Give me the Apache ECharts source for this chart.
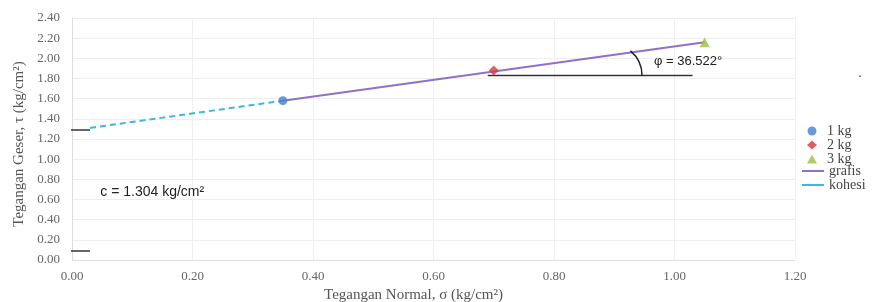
<!DOCTYPE html>
<html><head><meta charset="utf-8">
<script src="https://cdn.jsdelivr.net/npm/echarts@6/dist/echarts.min.js"></script>
<style>html,body{margin:0;padding:0;background:#fff}#c{width:873px;height:302px}</style>
</head><body><div id="c"></div>
<script>
// ---- data ----
const xTicks = [0, 0.2, 0.4, 0.6, 0.8, 1.0, 1.2];
const yTicks = [0, 0.2, 0.4, 0.6, 0.8, 1.0, 1.2, 1.4, 1.6, 1.8, 2.0, 2.2, 2.4];
const kg1 = [[0.35, 1.58]];
const kg2 = [[0.70, 1.88]];
const kg3 = [[1.05, 2.16]];
const grafis = [[0.35, 1.58], [1.05, 2.16]];
const kohesi = [[0.03, 1.31], [0.35, 1.58]];
const cMarkTop = [[-0.025, 1.29], [0.03, 1.29]];
const cMarkBottom = [[-0.025, 0.09], [0.03, 0.09]];
const phiBase = [[0.69, 1.83], [1.03, 1.83]];
const cohesionText = 'c = 1.304 kg/cm²';
const phiText = 'φ = 36.522°';

const serif = '"Liberation Serif","DejaVu Serif",serif';
const sans = '"Liberation Sans","DejaVu Sans",sans-serif';
const chart = echarts.init(document.getElementById('c'));
const blackLine = (d) => ({type:'line', data:d, symbol:'none', clip:false, silent:true,
  lineStyle:{color:'#333', width:1.5}, z:3});
const legText = {fontFamily:serif, fontSize:14, color:'#444', lineHeight:13.5};
chart.setOption({
  animation:false,
  grid:{left:72, right:78, top:18, bottom:42, outerBoundsMode:'none', containLabel:false},
  xAxis:{type:'value', min:0, max:1.2, interval:0.2,
    name:'Tegangan Normal, σ (kg/cm²)', nameLocation:'middle', nameGap:24,
    nameTextStyle:{fontFamily:serif, fontSize:15, color:'#555', padding:[0,40,0,0]},
    axisLine:{show:true, lineStyle:{color:'#ddd'}}, axisTick:{show:false},
    axisLabel:{fontFamily:serif, fontSize:13, color:'#666', margin:10, formatter:v=>v.toFixed(2)},
    splitLine:{show:true, lineStyle:{color:'#f0f0f0'}}},
  yAxis:{type:'value', min:0, max:2.4, interval:0.2,
    name:'Tegangan Geser, τ (kg/cm²)', nameLocation:'middle', nameGap:42,
    nameTextStyle:{fontFamily:serif, fontSize:15, color:'#555', padding:[0,10,0,0]},
    axisLine:{show:true, lineStyle:{color:'#ddd'}}, axisTick:{show:false},
    axisLabel:{fontFamily:serif, fontSize:13, color:'#666', margin:12, formatter:v=>v.toFixed(2)},
    splitLine:{show:true, lineStyle:{color:'#eee'}}},
  legend:[
    {orient:'vertical', left:807, top:124, padding:0, itemWidth:10, itemHeight:9, itemGap:0,
      textStyle:Object.assign({padding:[0,0,0,5]}, legText), data:['1 kg','2 kg','3 kg']},
    {orient:'vertical', left:802, top:164, padding:0, itemWidth:22, itemHeight:2, itemGap:0, icon:'rect',
      textStyle:legText, data:['grafis','kohesi']}
  ],
  series:[
    {name:'kohesi', type:'line', data:kohesi, symbol:'none',
      lineStyle:{color:'#3fb6e0', width:2, type:[6,4]}, itemStyle:{color:'#3fb6e0'}, z:2},
    {name:'grafis', type:'line', data:grafis, symbol:'none',
      lineStyle:{color:'#9070c8', width:2}, itemStyle:{color:'#9070c8'}, z:2},
    blackLine(cMarkTop), blackLine(cMarkBottom), blackLine(phiBase),
    {name:'1 kg', type:'scatter', data:kg1, symbol:'circle', symbolSize:9, itemStyle:{color:'#4a80d0'}, z:5},
    {name:'2 kg', type:'scatter', data:kg2, symbol:'diamond', symbolSize:10, itemStyle:{color:'#d8383a'}, z:5},
    {name:'3 kg', type:'scatter', data:kg3, symbol:'triangle', symbolSize:10, itemStyle:{color:'#a0c040'}, z:5}
  ]
});
const p = (x,y) => chart.convertToPixel({gridIndex:0}, [x,y]);
const arcC = p(0.893, 1.83);
const cPos = p(0.047, 0.67);
const phiPos = p(0.966, 1.97);
chart.setOption({graphic:[
  {type:'arc', shape:{cx:arcC[0], cy:arcC[1], r:32, startAngle:-Math.PI*0.28, endAngle:0, clockwise:true},
    style:{stroke:'#222', fill:null, lineWidth:1.5}, z:10},
  {type:'text', x:phiPos[0], y:phiPos[1], style:{text:phiText, font:'13px '+sans, fill:'#222', textVerticalAlign:'middle'}, z:10},
  {type:'text', x:cPos[0], y:cPos[1], style:{text:cohesionText, font:'14px '+sans, fill:'#222', textVerticalAlign:'middle'}, z:10},
  {type:'text', x:858, y:66, style:{text:'.', font:'14px '+sans, fill:'#444'}, z:10}
]});
</script></body></html>
